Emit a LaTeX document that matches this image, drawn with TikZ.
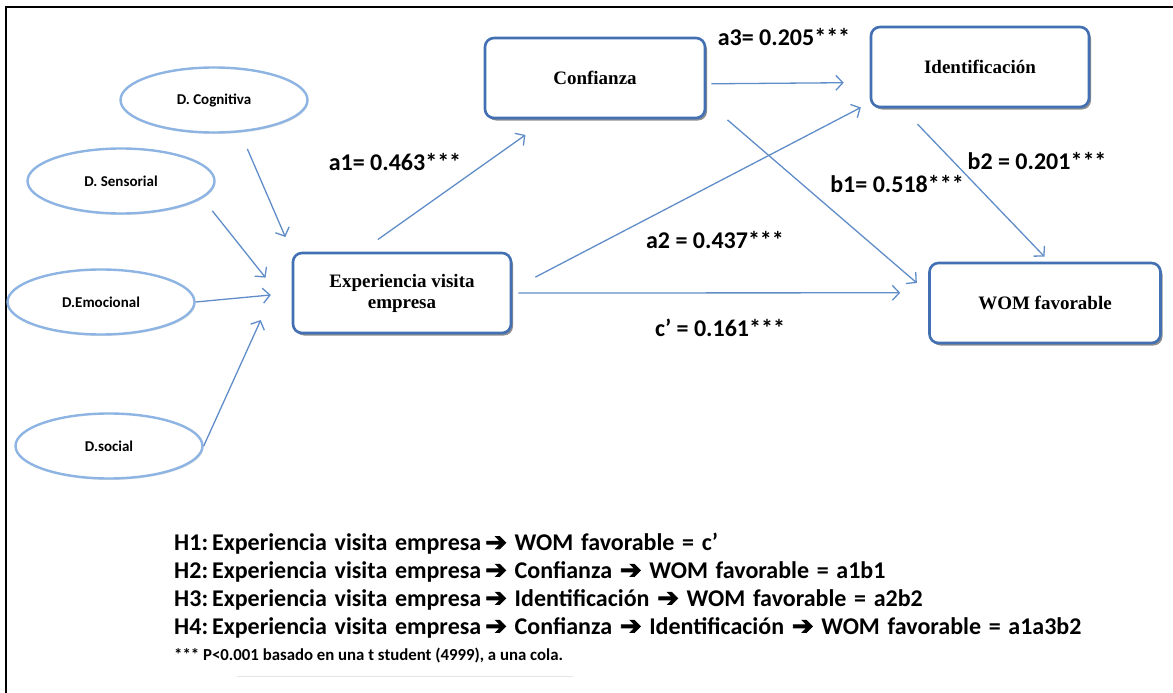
\documentclass[tikz,border=0pt]{standalone}
\usepackage{fontspec}
\setmainfont{Liberation Serif}
\newfontfamily\calibri{Carlito}
\newfontfamily\dingfont[FakeBold=3]{DejaVu Sans}
\usepackage{xcolor}
\usepackage{tikz}
\usetikzlibrary{arrows.meta, positioning, shapes.geometric, shadows}
\definecolor{boxblue}{RGB}{66,112,178}
\definecolor{lineblue}{RGB}{96,141,200}
\definecolor{ovalblue}{RGB}{141,180,226}
\newcommand{\widespaces}{\spaceskip 0.32em plus 0.1em\relax}
\tikzstyle{construct} = [rectangle, rounded corners=9pt, minimum width=220pt, minimum height=80pt, align=center, draw=boxblue, line width=2.6pt, fill=white, drop shadow={shadow xshift=2pt, shadow yshift=-2.5pt, opacity=0.55, fill=black!80}, font=\fontsize{19}{21}\selectfont\bfseries]
\tikzstyle{dimension} = [ellipse, minimum width=187pt, minimum height=65pt, inner sep=0pt, draw=ovalblue, line width=2.4pt, fill=white, drop shadow={shadow xshift=1pt, shadow yshift=-1.5pt, opacity=0.2}, font=\calibri\fontsize{15}{17}\selectfont\bfseries]
\tikzstyle{arrow} = [line width=1.3pt, draw=lineblue, -{Straight Barb[length=7pt, width=15pt]}]
\tikzstyle{coef} = [inner sep=0pt, font=\calibri\fontsize{24}{26}\selectfont\bfseries]
\tikzstyle{hyp} = [anchor=west, inner sep=0pt, font=\calibri\fontsize{24}{26}\selectfont\bfseries\widespaces]
\newcommand{\hypto}{{\dingfont\fontsize{26}{26}\selectfont ➔}}

\begin{document}
\begin{tikzpicture}[x=1pt, y=-1pt]
\useasboundingbox (0,0) rectangle (1173,693);
\draw [line width=2pt] (1173,7) -- (6,7) -- (6,693);

% Nodes
\node (cog) [dimension] at (214,100) {D. Cognitiva};
\node (sen) [dimension] at (121,181) {D. Sensorial};
\node (emo) [dimension] at (101,302) {D.Emocional};
\node (soc) [dimension] at (109,446) {D.social};

\node (exp) [construct, minimum width=218pt] at (402,293) {Experiencia visita\\empresa};
\node (conf) [construct] at (595,78) {Confianza};
\node (ident) [construct, minimum width=218pt] at (980,67) {Identificación};
\node (wom) [construct, minimum width=231pt] at (1045,303) {WOM favorable};

% Paths
\draw [arrow, shorten <=18pt, shorten >=16pt] (cog.-51) -- (exp.north west);
\draw [arrow, shorten <=16pt, shorten >=42pt] (sen.-12) -- (exp.189);
\draw [arrow, shorten >=21pt] (emo.east) -- (exp.west);
\draw [arrow, shorten >=75pt] (soc.east) -- (exp.north west);

\draw [arrow, shorten <=21pt, shorten >=27pt] (exp.135) -- (conf.221);
\draw [arrow, shorten <=26pt, shorten >=10pt] (exp.2) -- (ident.198);
\draw [arrow, shorten <=6pt, shorten >=28pt] (exp.east) -- (wom.175);
\draw [arrow, shorten <=5pt, shorten >=26pt] (conf.-3) -- (ident.188);
\draw [arrow, shorten <=28pt, shorten >=15pt] (conf.-12) -- (wom.175);
\draw [arrow, shorten <=22pt, shorten >=7pt] (ident.208) -- (wom.84);

% Coefficients
\node (a1) [coef] at (395,162) {a1= 0.463***};
\node (a3) [coef] at (784,37) {a3= 0.205***};
\node (b2) [coef] at (1037,161) {b2 = 0.201***};
\node (b1) [coef] at (897,184) {b1= 0.518***};
\node (a2) [coef] at (715,240) {a2 = 0.437***};
\node (c) [coef] at (720,328) {c’ = 0.161***};

% Hypotheses
\node (h1) [hyp] at (174,544) {H1:\,Experiencia visita empresa\,\hypto{} WOM favorable = c’};
\node (h2) [hyp] at (174,572) {H2:\,Experiencia visita empresa\,\hypto{} Confianza \hypto{} WOM favorable = a1b1};
\node (h3) [hyp] at (174,600) {H3:\,Experiencia visita empresa\,\hypto{} Identificación \hypto{} WOM favorable = a2b2};
\node (h4) [hyp] at (174,628) {H4:\,Experiencia visita empresa\,\hypto{} Confianza \hypto{} Identificación \hypto{} WOM favorable = a1a3b2};
\node (note) [hyp, font=\calibri\fontsize{16.8}{18}\selectfont\bfseries] at (174,656) {*** P<0.001 basado en una t student (4999), a una cola.};
\draw [gray!20, line width=1pt] (237,676) -- (573,676);

\end{tikzpicture}
\end{document}
